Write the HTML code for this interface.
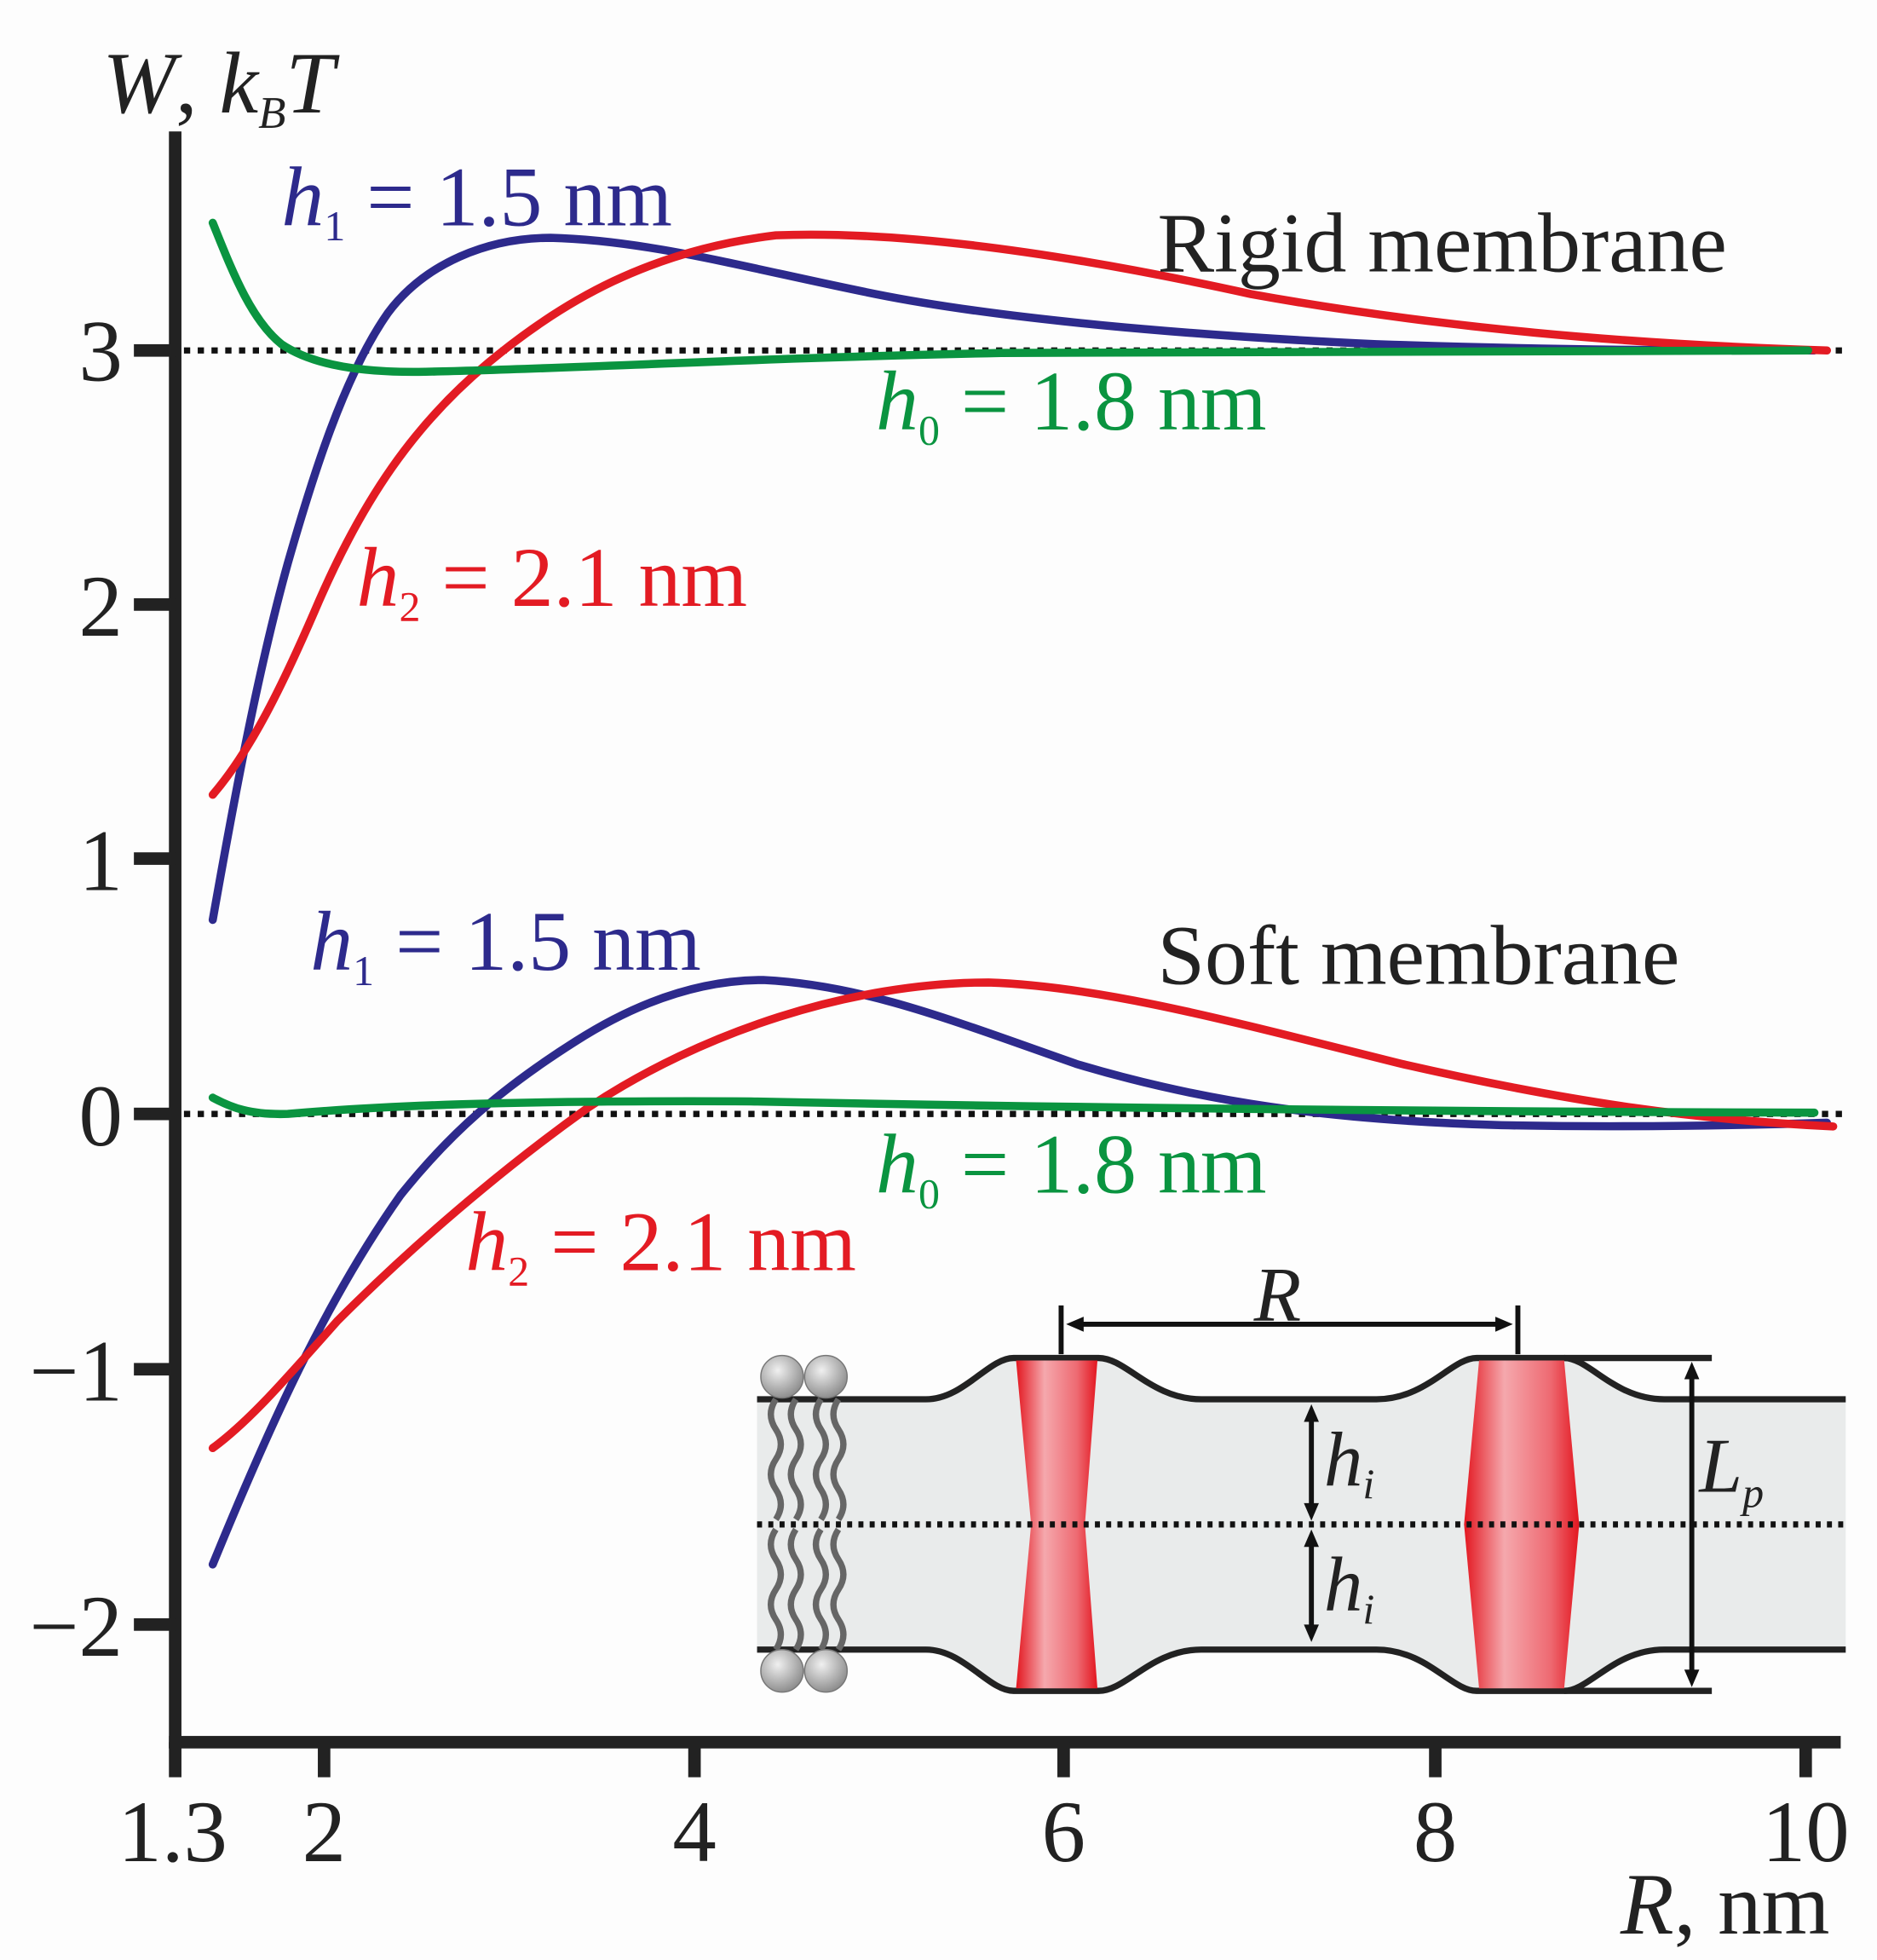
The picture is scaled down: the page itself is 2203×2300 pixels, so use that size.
<!DOCTYPE html>
<html><head><meta charset="utf-8"><style>
html,body{margin:0;padding:0;background:#fdfdfd}
svg{display:block}
text{font-family:"Liberation Serif",serif}
</style></head><body>
<svg width="2203" height="2300" viewBox="0 0 1500 1566" xmlns="http://www.w3.org/2000/svg">
<defs>
<linearGradient id="rg" x1="0" x2="1" y1="0" y2="0">
<stop offset="0" stop-color="#e3161f"/><stop offset="0.35" stop-color="#f5a8ad"/><stop offset="0.75" stop-color="#ee6a72"/><stop offset="1" stop-color="#e3161f"/></linearGradient>
<radialGradient id="sg" cx="0.4" cy="0.35" r="0.7"><stop offset="0" stop-color="#f0f0f0"/><stop offset="1" stop-color="#888"/></radialGradient>
</defs>
<rect width="1500" height="1566" fill="#fdfdfd"/>
<g stroke="#111" stroke-width="5" stroke-dasharray="5,6">
<line x1="147" y1="280" x2="1472" y2="280"/>
<line x1="147" y1="890" x2="1472" y2="890"/>
</g>
<g>
<path d="M605,1118 L740,1118 C770,1118 790,1085 810,1085 L878,1085 C900,1085 920,1118 960,1118 L1100,1118 C1140,1118 1160,1085 1180,1085 L1250,1085 C1270,1085 1290,1118 1330,1118 L1475,1118 L1475,1318 L1330,1318 C1290,1318 1270,1351 1250,1351 L1180,1351 C1160,1351 1140,1318 1100,1318 L960,1318 C920,1318 900,1351 878,1351 L810,1351 C790,1351 770,1318 740,1318 L605,1318 Z" fill="#e9ebeb"/>
<path d="M605,1118 L740,1118 C770,1118 790,1085 810,1085 L878,1085 C900,1085 920,1118 960,1118 L1100,1118 C1140,1118 1160,1085 1180,1085 L1250,1085 C1270,1085 1290,1118 1330,1118 L1475,1118" fill="none" stroke="#222" stroke-width="5"/>
<path d="M605,1318 L740,1318 C770,1318 790,1351 810,1351 L878,1351 C900,1351 920,1318 960,1318 L1100,1318 C1140,1318 1160,1351 1180,1351 L1250,1351 C1270,1351 1290,1318 1330,1318 L1475,1318" fill="none" stroke="#222" stroke-width="5"/>
<line x1="1250" y1="1085" x2="1368" y2="1085" stroke="#222" stroke-width="5"/>
<line x1="1250" y1="1351" x2="1368" y2="1351" stroke="#222" stroke-width="5"/>
<polygon points="812,1087 877,1087 867,1218 877,1349 812,1349 824,1218" fill="url(#rg)"/>
<polygon points="1182,1087 1250,1087 1262,1218 1250,1349 1182,1349 1170,1218" fill="url(#rg)"/>
<line x1="605" y1="1218" x2="1475" y2="1218" stroke="#111" stroke-width="5" stroke-dasharray="4,5"/>
<g stroke="#666" stroke-width="5" fill="none">
<path d="M620,1118 q-8,12 0,24 q8,12 0,24 q-8,12 0,24 q8,12 0,24"/>
<path d="M636,1118 q-8,12 0,24 q8,12 0,24 q-8,12 0,24 q8,12 0,24"/>
<path d="M656,1118 q-8,12 0,24 q8,12 0,24 q-8,12 0,24 q8,12 0,24"/>
<path d="M670,1118 q-8,12 0,24 q8,12 0,24 q-8,12 0,24 q8,12 0,24"/>
<path d="M620,1222 q-8,12 0,24 q8,12 0,24 q-8,12 0,24 q8,12 0,24"/>
<path d="M636,1222 q-8,12 0,24 q8,12 0,24 q-8,12 0,24 q8,12 0,24"/>
<path d="M656,1222 q-8,12 0,24 q8,12 0,24 q-8,12 0,24 q8,12 0,24"/>
<path d="M670,1222 q-8,12 0,24 q8,12 0,24 q-8,12 0,24 q8,12 0,24"/>
</g>
<g fill="url(#sg)" stroke="#777" stroke-width="1">
<circle cx="625" cy="1100" r="17"/><circle cx="660" cy="1100" r="17"/>
<circle cx="625" cy="1335" r="17"/><circle cx="660" cy="1335" r="17"/>
</g>
<g stroke="#111" stroke-width="4" fill="#111">
<line x1="848" y1="1043" x2="848" y2="1082"/><line x1="1213" y1="1043" x2="1213" y2="1082"/>
<line x1="860" y1="1058" x2="1201" y2="1058"/>
<polygon points="852,1058 866,1052 866,1064" stroke="none"/>
<polygon points="1209,1058 1195,1052 1195,1064" stroke="none"/>
<line x1="1048" y1="1130" x2="1048" y2="1208"/>
<polygon points="1048,1122 1042,1136 1054,1136" stroke="none"/><polygon points="1048,1215 1042,1201 1054,1201" stroke="none"/>
<line x1="1048" y1="1230" x2="1048" y2="1305"/>
<polygon points="1048,1222 1042,1236 1054,1236" stroke="none"/><polygon points="1048,1312 1042,1298 1054,1298" stroke="none"/>
<line x1="1352" y1="1097" x2="1352" y2="1340"/>
<polygon points="1352,1088 1346,1102 1358,1102" stroke="none"/><polygon points="1352,1348 1346,1334 1358,1334" stroke="none"/>
</g>
<text x="1002" y="1055" font-size="62" font-style="italic" fill="#222">R</text>
<text x="1058" y="1187" font-size="62" font-style="italic" fill="#222">h<tspan font-size="34" dy="10">i</tspan></text>
<text x="1058" y="1287" font-size="62" font-style="italic" fill="#222">h<tspan font-size="34" dy="10">i</tspan></text>
<text x="1358" y="1192" font-size="62" font-style="italic" fill="#222">L<tspan font-size="34" dy="12">p</tspan></text>
</g>
<g fill="none" stroke-width="6.5" stroke-linecap="round" stroke-linejoin="round">
<path stroke="#2d2a8c" d="M170,735 C185,650 205,540 230,450 C250,380 275,300 310,250 C340,210 390,190 440,190 C520,192 600,215 700,235 C800,255 950,268 1100,275 C1250,280 1350,280 1450,280"/>
<path stroke="#e31b23" d="M170,635 C200,600 225,550 255,480 C290,400 330,340 390,290 C450,240 520,200 620,188 C720,184 850,202 1000,235 C1150,262 1300,275 1460,280"/>
<path stroke="#0a9440" d="M170,178 C185,215 200,255 225,275 C250,292 290,298 340,297 C450,295 600,286 800,282 C1000,280 1200,280 1445,280"/>
<path stroke="#2d2a8c" d="M170,1250 C215,1140 260,1040 320,955 C360,905 400,870 460,832 C510,800 560,783 610,783 C690,787 760,815 860,850 C960,880 1060,895 1200,899 C1300,901 1400,899 1460,897"/>
<path stroke="#e31b23" d="M170,1157 C200,1135 230,1100 270,1055 C330,995 400,935 470,885 C560,825 680,785 790,785 C880,788 980,815 1120,850 C1260,882 1360,895 1465,900"/>
<path stroke="#0a9440" d="M170,877 C185,885 200,891 230,890 C300,884 400,879 600,880 C800,884 1100,888 1450,889"/>
</g>
<g fill="#222">
<rect x="135" y="105" width="10" height="1292"/>
<rect x="135" y="1387" width="1336" height="10"/>
<rect x="135" y="1392" width="10" height="28"/>
<rect x="254" y="1392" width="10" height="28"/>
<rect x="550" y="1392" width="10" height="28"/>
<rect x="845" y="1392" width="10" height="28"/>
<rect x="1142" y="1392" width="10" height="28"/>
<rect x="1438" y="1392" width="10" height="28"/>
<rect x="107" y="275" width="33" height="10"/>
<rect x="107" y="478" width="33" height="10"/>
<rect x="107" y="681" width="33" height="10"/>
<rect x="107" y="885" width="33" height="10"/>
<rect x="107" y="1089" width="33" height="10"/>
<rect x="107" y="1293" width="33" height="10"/>
</g>
<g font-size="70" fill="#222">
<text x="98" y="304" text-anchor="end">3</text>
<text x="98" y="508" text-anchor="end">2</text>
<text x="98" y="711" text-anchor="end">1</text>
<text x="98" y="915" text-anchor="end">0</text>
<text x="98" y="1119" text-anchor="end">−1</text>
<text x="98" y="1323" text-anchor="end">−2</text>
<text x="138" y="1487" text-anchor="middle">1.3</text>
<text x="259" y="1487" text-anchor="middle">2</text>
<text x="555" y="1487" text-anchor="middle">4</text>
<text x="850" y="1487" text-anchor="middle">6</text>
<text x="1147" y="1487" text-anchor="middle">8</text>
<text x="1443" y="1487" text-anchor="middle">10</text>
<text x="1295" y="1545"><tspan font-style="italic">R</tspan>, nm</text>
<text x="82" y="90"><tspan font-style="italic">W</tspan>, <tspan font-style="italic">k</tspan><tspan font-style="italic" font-size="36" dy="12">B</tspan><tspan font-style="italic" dy="-12">T</tspan></text>
</g>
<g font-size="68">
<text x="225" y="180" fill="#2d2a8c"><tspan font-style="italic">h</tspan><tspan font-size="34" dy="12">1</tspan><tspan dy="-12"> = 1.5 nm</tspan></text>
<text x="925" y="217" fill="#222">Rigid membrane</text>
<text x="700" y="343" fill="#0a9440"><tspan font-style="italic">h</tspan><tspan font-size="34" dy="12">0</tspan><tspan dy="-12"> = 1.8 nm</tspan></text>
<text x="285" y="484" fill="#e31b23"><tspan font-style="italic">h</tspan><tspan font-size="34" dy="12">2</tspan><tspan dy="-12"> = 2.1 nm</tspan></text>
<text x="248" y="775" fill="#2d2a8c"><tspan font-style="italic">h</tspan><tspan font-size="34" dy="12">1</tspan><tspan dy="-12"> = 1.5 nm</tspan></text>
<text x="925" y="786" fill="#222">Soft membrane</text>
<text x="700" y="953" fill="#0a9440"><tspan font-style="italic">h</tspan><tspan font-size="34" dy="12">0</tspan><tspan dy="-12"> = 1.8 nm</tspan></text>
<text x="372" y="1015" fill="#e31b23"><tspan font-style="italic">h</tspan><tspan font-size="34" dy="12">2</tspan><tspan dy="-12"> = 2.1 nm</tspan></text>
</g>
</svg>
</body></html>
